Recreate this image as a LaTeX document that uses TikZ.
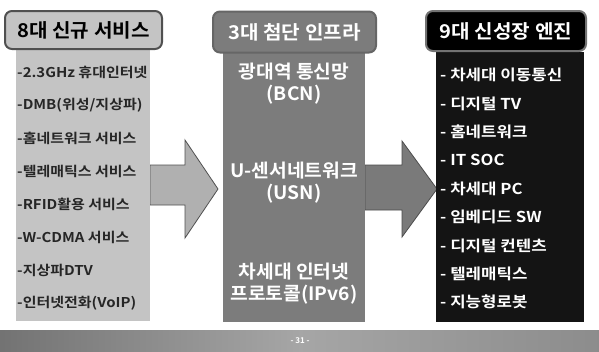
\documentclass[tikz,border=0pt]{standalone}
\usepackage{fontspec}
\setmainfont{Noto Sans CJK KR}
\newfontfamily\krb{Noto Sans CJK KR Bold}
\usetikzlibrary{shadings}
\definecolor{lgray}{HTML}{C4C4C4}
\definecolor{mgray}{HTML}{7C7C7C}
\definecolor{agray}{HTML}{B0B0B0}
\definecolor{agray2}{HTML}{7A7A7A}
\definecolor{dborder}{HTML}{505050}
\tikzset{
  headbox/.style={rounded corners=7pt, line width=2pt, inner sep=0pt},
  headtext/.style={inner sep=0pt, xscale=1.06, font=\krb\fontsize{19}{19}\selectfont},
  bodybox/.style={inner sep=0pt},
  litem/.style={anchor=west, inner sep=0pt, xscale=1.11, font=\krb\fontsize{13.5}{14}\selectfont, text=black!85},
  ritem/.style={anchor=west, inner sep=0pt, xscale=1.12, font=\krb\fontsize{15}{15}\selectfont, text=white},
  mitem/.style={align=center, inner sep=0pt, xscale=1.04, font=\krb\fontsize{18.5}{22}\selectfont, text=white},
  blockarrow/.style={draw=dborder, line width=0.8pt},
}
\begin{document}
\begin{tikzpicture}[x=1pt,y=-1pt]
\useasboundingbox (0,0) rectangle (599,351);
\fill[white] (0,0) rectangle (599,351);
% arrows
\draw[blockarrow, fill=agray] (150,165) coordinate (a1s) -- (185,165) -- (185,140) -- (218,189) coordinate (a1t) -- (185,238) -- (185,205) -- (150,205) -- cycle;
\draw[blockarrow, fill=agray2, draw=black!70] (365,165) coordinate (a2s) -- (402,165) -- (402,141) -- (437,189) coordinate (a2t) -- (402,237) -- (402,210) -- (365,210) -- cycle;
% bodies
\node[bodybox, fill=lgray, minimum width=134pt, minimum height=271pt] (lbody) at (83,185.5) {};
\node[bodybox, fill=mgray, minimum width=142pt, minimum height=269pt] (mbody) at (294,187.5) {};
\node[bodybox, fill=black!92, minimum width=148pt, minimum height=270pt] (rbody) at (510,187) {};
% headers
\node[headbox, fill=lgray, draw=dborder, minimum width=157pt, minimum height=38pt] (lhead) at (83.5,30) {};
\node[headtext, text=black] (lheadt) at (lhead.center) {8대 신규 서비스};
\node[headbox, fill=mgray, draw=black!60, minimum width=163pt, minimum height=41pt] (mhead) at (294.5,32) {};
\node[headtext, text=white] (mheadt) at (mhead.center) {3대 첨단 인프라};
\node[headbox, fill=black, draw=black!55, minimum width=160pt, minimum height=40pt] (rhead) at (506,31) {};
\node[headtext, text=white] (rheadt) at (rhead.center) {9대 신성장 엔진};
% left items
\node[litem] (l1) at (17,72) {-2.3GHz 휴대인터넷};
\node[litem] (l2) at (17,105) {-DMB(위성/지상파)};
\node[litem] (l3) at (17,138) {-홈네트워크 서비스};
\node[litem] (l4) at (17,171) {-텔레매틱스 서비스};
\node[litem] (l5) at (17,204) {-RFID활용 서비스};
\node[litem] (l6) at (17,237) {-W-CDMA 서비스};
\node[litem] (l7) at (17,270) {-지상파DTV};
\node[litem] (l8) at (17,303) {-인터넷전화(VoIP)};
% middle items
\node[mitem] (m1) at (294,84) {광대역 통신망\\(BCN)};
\node[mitem] (m2) at (294,183) {U-센서네트워크\\(USN)};
\node[mitem] (m3) at (294,284) {차세대 인터넷\\프로토콜(IPv6)};
% right items
\node[ritem] (r1) at (440,75) {- 차세대 이동통신};
\node[ritem] (r2) at (440,103.4) {- 디지털 TV};
\node[ritem] (r3) at (440,131.8) {- 홈네트워크};
\node[ritem] (r4) at (440,160.2) {- IT SOC};
\node[ritem] (r5) at (440,188.6) {- 차세대 PC};
\node[ritem] (r6) at (440,217) {- 임베디드 SW};
\node[ritem] (r7) at (440,245.4) {- 디지털 컨텐츠};
\node[ritem] (r8) at (440,273.8) {- 텔레매틱스};
\node[ritem] (r9) at (440,302.2) {- 지능형로봇};
% bottom bar
\shade[left color=black!55, right color=black!45, middle color=black!35] (0,330) rectangle (599,351);
\node[inner sep=0pt, text=white, font=\krb\fontsize{8}{8}\selectfont] (page) at (300,341) {- 31 -};
\end{tikzpicture}
\end{document}
